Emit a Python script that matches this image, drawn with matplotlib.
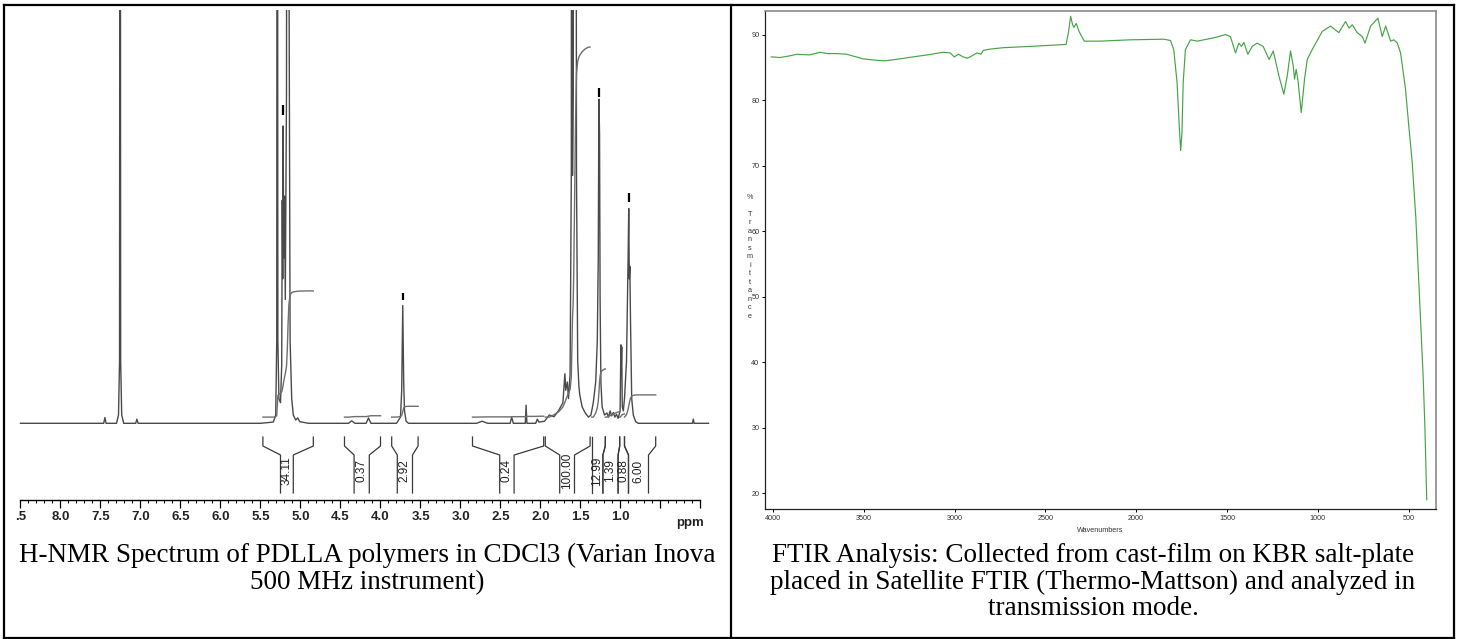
import numpy as np
import matplotlib
matplotlib.use("Agg")
import matplotlib.pyplot as plt
from matplotlib.lines import Line2D

W, H = 1459, 639

# ---------------- H-NMR data (ppm, intensity; baseline = 0, top of frame = 100) ----------------
nmr_ppm = [8.50, 7.60, 7.46, 7.445, 7.43, 7.30, 7.275, 7.262, 7.255, 7.248, 7.235, 7.21,
           7.06, 7.045, 7.03, 5.50, 5.34, 5.31, 5.297, 5.29, 5.283, 5.27, 5.25, 5.235,
           5.228, 5.222, 5.217, 5.21, 5.20, 5.19, 5.175, 5.165, 5.155, 5.145, 5.13, 5.11,
           5.09, 5.06, 5.035, 5.01, 4.90, 4.40, 4.36, 4.32, 4.18, 4.15, 4.12, 3.80, 3.75,
           3.735, 3.722, 3.71, 3.70, 3.68, 3.65, 2.80, 2.73, 2.66, 2.38, 2.36, 2.34, 2.19,
           2.18, 2.17, 2.06, 2.04, 2.02, 1.95, 1.89, 1.83, 1.77, 1.72, 1.695, 1.685, 1.665,
           1.65, 1.63, 1.615, 1.608, 1.600, 1.592, 1.585, 1.572, 1.562, 1.55, 1.535, 1.52,
           1.51, 1.48, 1.44, 1.40, 1.37, 1.34, 1.31, 1.29, 1.278, 1.27, 1.262, 1.255, 1.245,
           1.23, 1.20, 1.17, 1.15, 1.13, 1.11, 1.09, 1.07, 1.05, 1.03, 1.005, 0.995, 0.99,
           0.985, 0.978, 0.965, 0.95, 0.925, 0.905, 0.897, 0.89, 0.883, 0.875, 0.86, 0.84,
           0.81, 0.78, 0.10, 0.09, 0.08, -0.10]
nmr_int = [0, 0, 0, 1.4, 0, 0, 2, 15, 300, 15, 2, 0,
           0, 1.0, 0, 0, 0.3, 2, 20, 300, 20, 6, 5, 14,
           54, 35, 72, 40, 55, 30, 80, 300, 300, 120, 20, 6,
           2, 0.8, 1.3, 0.4, 0, 0, 0.6, 0, 0, 1.3, 0, 0, 1.5,
           8, 28.5, 10, 3, 0.5, 0, 0, 0.5, 0, 0, 1.5, 0, 0,
           4.4, 0, 0, 1.0, 0.3, 0.5, 2, 1.6, 3.2, 5, 12, 8, 10,
           6, 12, 60, 300, 60, 80, 300, 300, 300, 60, 15, 9,
           7, 4, 2.5, 1.5, 2, 5, 10, 20, 40, 78.5, 70, 30, 10,
           4, 2, 2.5, 1.5, 3, 1.8, 2.6, 1.5, 2.2, 1.2, 3, 19, 14,
           18.5, 4, 3, 6, 15, 40, 52, 35, 38, 25, 6, 2,
           0.4, 0, 0, 1.0, 0, 0]

# integrated regions: left ppm, right ppm, inner left, inner right, value
int_left = [5.47, 4.45, 3.86, 2.85, 1.94, 1.36, 1.19, 1.01, 0.95]
int_right = [4.84, 4.00, 3.53, 1.96, 1.38, 1.19, 1.01, 0.95, 0.56]
int_in_left = [5.25, 4.33, 3.79, 2.51, 1.76, 1.36, 1.22, 1.03, 0.90]
int_in_right = [5.09, 4.14, 3.60, 2.33, 1.575, 1.22, 1.03, 0.90, 0.65]
int_values = [34.11, 0.37, 2.92, 0.24, 100.00, 12.99, 1.39, 0.88, 6.00]

# peak-pick marks
mark_ppm = [5.217, 3.722, 1.266, 0.895]
mark_lo = [74.6, 29.9, 79.1, 53.6]
mark_hi = [77.0, 31.6, 81.1, 55.8]

ppm_ticks = [8.5, 8.0, 7.5, 7.0, 6.5, 6.0, 5.5, 5.0, 4.5, 4.0, 3.5, 3.0, 2.5, 2.0, 1.5, 1.0, 0.5, 0.0]
ppm_labels = ['.5', '8.0', '7.5', '7.0', '6.5', '6.0', '5.5', '5.0', '4.5', '4.0', '3.5', '3.0',
              '2.5', '2.0', '1.5', '1.0', '', '']

# ---------------- FTIR data ----------------
ir_wn = [4010, 3960, 3900, 3869, 3800, 3741, 3700, 3649, 3594, 3504, 3440, 3383, 3300, 3228,
         3150, 3063, 3024, 3002, 2979, 2953, 2931, 2914, 2877, 2855, 2841, 2800, 2732, 2583,
         2450, 2386, 2372, 2361, 2350, 2343, 2330, 2315, 2286, 2200, 2032, 1848, 1811, 1793,
         1775, 1762, 1755, 1748, 1741, 1729, 1701, 1664, 1573, 1508, 1481, 1453, 1435, 1420,
         1407, 1385, 1361, 1334, 1301, 1268, 1245, 1214, 1187, 1168, 1150, 1135, 1128, 1119,
         1110, 1091, 1073, 1058, 1031, 975, 930, 884, 847, 828, 810, 783, 755, 740, 709, 669,
         645, 626, 599, 581, 562, 544, 517, 499, 480, 460, 445, 430, 420, 410, 400]
ir_t = [86.6, 86.5, 86.8, 87.0, 86.9, 87.3, 87.1, 87.1, 87.0, 86.3, 86.1, 86.0, 86.3, 86.6,
        86.9, 87.3, 87.2, 86.6, 87.0, 86.6, 86.4, 86.6, 87.2, 87.0, 87.6, 87.8, 88.0, 88.2,
        88.4, 88.5, 90.5, 92.8, 91.5, 91.1, 91.7, 90.5, 89.0, 89.0, 89.2, 89.3, 89.1, 87.7,
        82.7, 75.6, 72.3, 75.0, 82.7, 87.7, 89.2, 89.0, 89.5, 90.0, 89.7, 87.2, 88.7, 88.2,
        88.8, 87.0, 88.2, 88.7, 88.2, 86.2, 87.5, 83.7, 80.9, 83.7, 87.5, 85.2, 83.2, 84.7,
        83.2, 78.1, 83.2, 86.2, 87.7, 90.5, 91.3, 90.3, 92.0, 91.0, 91.5, 90.3, 89.7, 88.7, 91.3, 92.5,
        89.7, 91.3, 89.0, 89.2, 88.7, 87.2, 81.7, 76.1, 70.5, 62, 53, 44, 38, 30, 19.0]
ir_yticks = [20, 30, 40, 50, 60, 70, 80, 90]
ir_xticks = [4000, 3500, 3000, 2500, 2000, 1500, 1000, 500]

nmr_caption = "H-NMR Spectrum of PDLLA polymers in CDCl3 (Varian Inova\n500 MHz instrument)"
ir_caption = ("FTIR Analysis: Collected from cast-film on KBR salt-plate\n"
              "placed in Satellite FTIR (Thermo-Mattson) and analyzed in\ntransmission mode.")


def box(x0, y0, x1, y1):
    # pixel box (top-left origin) -> figure rect
    return [x0 / W, 1 - y1 / H, (x1 - x0) / W, (y1 - y0) / H]


fig = plt.figure(figsize=(W / 100, H / 100), dpi=100)
fig.patch.set_facecolor('white')

# ---------------- NMR panel ----------------
ax = fig.add_axes(box(10, 10, 710, 500))
ax.set_xlim(1 + (620.5 - 10) / 80, 1 + (620.5 - 710) / 80)
ax.set_ylim((423.3 - 500) / 4.13, (423.3 - 10) / 4.13)

ppm = np.array(nmr_ppm)
inten = np.array(nmr_int, dtype=float)
ax.plot(ppm, inten, color='#4a4a4a', lw=1.0, solid_joinstyle='round')

# integral curves
k = 0.896
base = 1.5
for p0, p1, val in zip(int_left, int_right, int_values):
    m = (ppm <= p0) & (ppm >= p1)
    xs, ys = ppm[m], inten[m]
    cum = np.concatenate([[0], np.cumsum(0.5 * (ys[1:] + ys[:-1]) * -np.diff(xs))])
    curve = base + val * k * cum / cum[-1]
    ax.plot(np.concatenate([[p0], xs, [p1]]),
            np.concatenate([[base], curve, [curve[-1]]]),
            color='#6e6e6e', lw=1.0)

ax.vlines(mark_ppm, mark_lo, mark_hi, color='black', lw=1.6)


def ylev(py):
    return (423.3 - py) / 4.13


y_top, y_elb, y_diag, y_bot, y_txt = ylev(437), ylev(446), ylev(455), ylev(493), ylev(471)
for tl, tr, il, ir, val in zip(int_left, int_right, int_in_left, int_in_right, int_values):
    for a, b in ((tl, il), (tr, ir)):
        ax.plot([a, a, b, b], [y_top, y_elb, y_diag, y_bot], color='#3a3a3a', lw=0.9)
    ax.text((il + ir) / 2, y_txt, f"{val:.2f}", rotation=90, ha='center', va='center',
            fontsize=8.5, family='Liberation Sans', color='#222222')

for s in ['top', 'right', 'left']:
    ax.spines[s].set_visible(False)
ax.spines['bottom'].set_bounds(0.0, 8.5)
ax.spines['bottom'].set_linewidth(1.0)
ax.set_yticks([])
ax.set_xticks(ppm_ticks)
ax.set_xticklabels(ppm_labels, fontsize=9.5, family='Liberation Sans', fontweight='bold',
                   color='#222222')
ax.set_xticks(np.arange(0.0, 8.55, 0.1), minor=True)
ax.tick_params(axis='x', which='major', direction='out', length=5.5, width=0.9, pad=2.5)
ax.tick_params(axis='x', which='minor', direction='out', length=2.5, width=0.8)
ax.text(0.13, -0.035, 'ppm', transform=ax.get_xaxis_transform(), ha='center', va='top',
        fontsize=9.5, family='Liberation Sans', fontweight='bold', color='#222222')
ax.patch.set_alpha(0)

# ---------------- FTIR panel ----------------
ax2 = fig.add_axes(box(765, 11, 1436, 509))
ax2.plot(ir_wn, ir_t, color='#46a446', lw=0.85)
ax2.set_xlim(4044, 349)
ax2.set_ylim(17.6, 93.6)
ax2.set_xticks(ir_xticks)
ax2.set_yticks(ir_yticks)
ax2.tick_params(direction='out', length=2.5, width=0.7, pad=1.5, labelsize=5.2,
                labelcolor='#333333')
for lab in ax2.get_xticklabels() + ax2.get_yticklabels():
    lab.set_family('Liberation Sans')
for s in ['top', 'right']:
    ax2.spines[s].set_color('#8a8a8a')
    ax2.spines[s].set_linewidth(1.2)
for s in ['left', 'bottom']:
    ax2.spines[s].set_color('#222222')
    ax2.spines[s].set_linewidth(0.9)
ax2.set_xlabel('Wavenumbers', fontsize=5.2, family='Liberation Sans', color='#333333',
               labelpad=4)
fig.text(750 / W, 1 - 194 / H, "%\n\nT\nr\na\nn\ns\nm\ni\nt\nt\na\nn\nc\ne",
         ha='center', va='top', fontsize=5.2, family='Liberation Sans', color='#333333',
         linespacing=1.3)

# ---------------- captions ----------------
fig.text(367 / W, 1 - 543 / H, nmr_caption, ha='center', va='top', fontsize=19.5,
         family='Liberation Serif', linespacing=1.08)
fig.text(1093 / W, 1 - 543 / H, ir_caption, ha='center', va='top', fontsize=19.5,
         family='Liberation Serif', linespacing=1.08)

# ---------------- table borders ----------------
for (x0, y0, x1, y1) in [(4, 5, 1454, 5), (4, 5, 4, 638), (730.5, 5, 730.5, 638),
                         (1454, 5, 1454, 638), (4, 637.5, 1454, 637.5)]:
    fig.add_artist(Line2D([x0 / W, x1 / W], [1 - y0 / H, 1 - y1 / H], color='black', lw=1.6,
                          transform=fig.transFigure))

fig.savefig('out.png', dpi=100)
